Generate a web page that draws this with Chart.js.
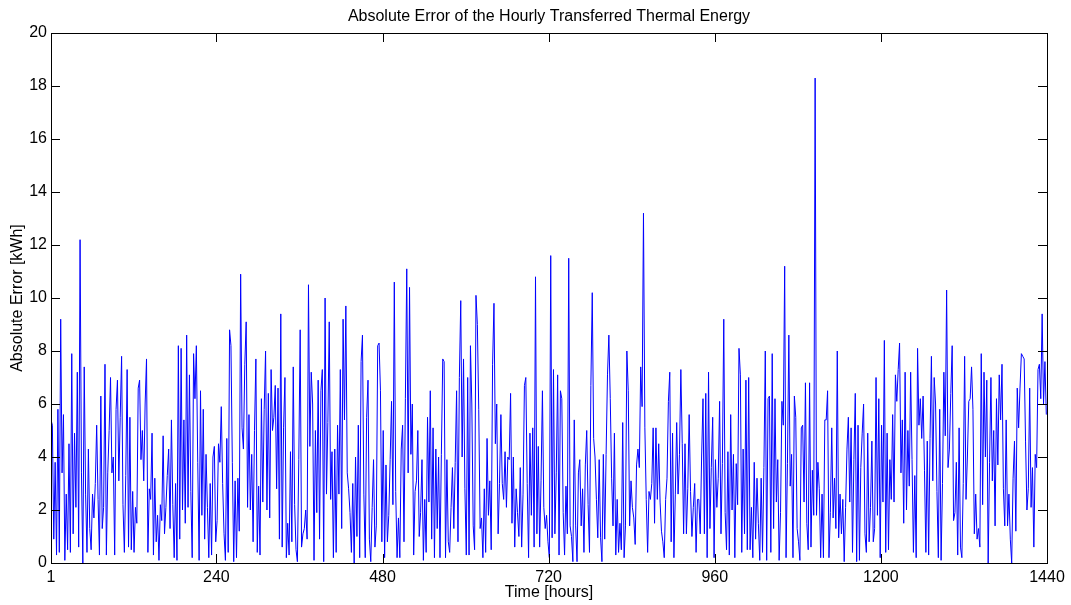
<!DOCTYPE html>
<html>
<head>
<meta charset="utf-8">
<script src="https://cdn.jsdelivr.net/npm/chart.js@4"></script>
<style>
  body { margin: 0; background: #fff; }
  #chart { display: block; }
</style>
</head>
<body>
<canvas id="chart" width="1071" height="605"></canvas>
<script>
const errorH1_143 = [
  5.4,5.2,0.9,3.8,0.3,5.8,0.4,9.2,3.4,5.6,
  0.1,2.6,0.5,4.5,0.4,7.9,1.1,4.9,2.1,7.2,
  0.6,12.2,3.4,0.0,7.4,2.6,0.4,4.3,1.3,0.5,
  2.6,1.7,3.0,5.2,2.4,0.3,6.3,1.3,2.1,7.5,
  0.3,3.4,5.0,7.0,3.4,4.0,0.3,5.8,6.9,3.1,
  5.5,7.8,2.2,0.4,3.3,7.3,0.6,5.5,0.5,2.7,
  0.4,2.1,1.5,6.6,6.9,3.9,5.0,3.1,6.0,7.7,
  0.4,2.8
];
const errorH145_287 = [
  2.4,4.9,0.3,3.2,0.8,1.8,0.1,2.2,1.6,4.8,
  1.1,2.1,3.3,4.3,1.3,5.4,2.2,0.2,3.0,0.1,
  8.2,0.9,8.1,2.0,5.4,1.5,8.6,2.1,7.1,2.7,
  0.2,7.9,6.2,8.2,3.8,0.1,6.5,1.8,5.8,0.9,
  4.1,2.1,0.2,3.0,0.3,4.0,4.4,0.8,1.6,4.5,
  3.8,5.9,3.0,1.1,0.1,4.7,0.4,8.8,8.2,3.8,
  0.05,3.1,0.2,3.2,1.2,10.9,5.1,4.3,7.5,9.1,
  2.1,5.6
];
const errorH289_431 = [
  2.0,4.1,0.8,5.0,7.7,0.4,2.9,0.3,6.2,2.3,
  5.8,8.0,2.0,6.4,1.7,7.3,5.0,5.5,6.7,2.8,
  6.6,0.9,9.4,0.6,5.1,7.0,0.2,1.5,0.3,4.2,
  0.8,7.4,2.2,0.5,0.05,3.9,8.8,0.6,1.1,1.3,
  2.0,0.9,10.5,4.4,7.2,6.0,0.1,5.0,1.9,6.9,
  0.9,6.5,7.3,0.05,10.0,2.6,5.3,9.1,2.4,4.2,
  0.2,4.3,0.4,5.2,2.6,7.3,1.3,9.2,5.4,9.7,
  3.4,2.8
];
const errorH433_575 = [
  1.9,0.4,3.0,0.0,4.0,1.0,5.2,0.2,7.6,8.6,
  2.6,0.2,5.5,6.9,0.9,0.05,2.1,3.9,0.6,1.4,
  8.2,8.3,6.5,0.8,5.0,0.2,3.7,0.8,1.8,3.9,
  6.1,2.2,10.6,2.7,0.2,1.7,0.2,4.3,5.2,0.8,
  6.2,11.1,3.4,10.4,4.1,6.0,0.3,2.7,3.1,5.0,
  1.0,1.9,3.9,0.1,2.4,0.4,5.5,2.3,6.5,0.9,
  5.1,0.2,4.3,1.3,4.0,0.2,4.1,7.7,7.6,0.2,
  3.9,0.8
];
const errorH577_719 = [
  0.4,2.1,3.6,1.3,3.8,6.5,0.8,7.0,9.9,4.0,
  7.7,2.8,0.3,7.0,0.3,8.2,6.0,1.4,0.5,10.1,
  9.0,5.8,1.3,1.7,0.2,2.8,0.4,4.7,1.8,3.1,
  0.5,7.5,9.8,4.5,6.0,1.1,3.0,5.6,3.0,2.4,
  4.2,2.1,4.0,3.9,6.4,1.5,4.0,0.6,2.8,1.9,
  1.0,3.6,0.6,2.6,6.7,7.0,3.0,0.2,4.9,1.8,
  5.1,0.6,10.8,1.1,4.4,0.6,3.1,6.5,2.1,1.3,
  1.8,0.8
];
const errorH721_863 = [
  0.2,11.6,0.95,7.3,1.1,3.4,7.1,0.3,6.5,6.2,
  1.9,0.3,2.9,1.1,11.5,1.4,1.0,0.05,5.4,1.4,
  0.05,3.4,3.9,1.4,2.8,0.4,3.7,5.0,2.2,0.4,
  6.7,10.2,4.7,4.0,2.4,0.95,3.9,0.95,0.05,4.1,
  0.9,4.1,7.1,8.6,6.2,3.2,1.4,4.9,0.3,2.4,
  0.4,1.5,0.5,5.3,0.2,1.4,8.0,6.5,1.4,3.1,
  2.1,1.7,0.7,3.7,4.3,3.6,7.4,5.9,13.2,5.1,
  2.4,0.4
];
const errorH865_1007 = [
  2.7,2.4,3.0,5.1,1.5,5.1,2.4,4.5,2.3,1.2,
  0.8,0.2,2.4,3.2,6.1,7.2,0.8,4.9,0.2,2.6,
  5.3,2.6,4.1,7.3,4.5,1.1,4.5,1.1,2.8,5.6,
  2.7,1.0,2.1,3.0,0.4,2.4,2.4,1.1,4.0,6.2,
  1.1,6.4,0.2,7.2,1.3,3.6,5.5,0.2,3.9,2.1,
  3.2,6.1,1.1,3.75,9.2,1.9,0.5,4.2,0.3,5.6,
  2.0,4.1,0.2,3.75,2.2,8.1,7.1,0.4,4.3,1.1,
  6.9,0.5
];
const errorH1009_1151 = [
  7.0,0.5,2.1,0.2,3.8,0.9,3.2,1.5,0.1,3.2,
  0.4,3.6,8.0,0.1,6.2,6.3,0.4,7.9,1.3,6.2,
  2.3,3.9,0.1,1.9,6.1,5.2,11.2,0.2,3.75,8.6,
  2.9,4.1,0.2,6.3,5.5,1.3,0.8,0.1,5.1,5.2,
  2.3,6.8,1.5,0.5,6.8,0.6,3.5,1.8,18.3,1.8,
  3.8,2.8,0.2,2.6,0.2,5.4,5.4,6.5,0.2,1.9,
  5.1,1.7,3.2,1.3,8.0,0.95,2.6,1.1,2.4,0.05,
  2.1,4.3
];
const errorH1153_1295 = [
  5.5,2.3,5.1,0.4,3.9,6.4,0.05,5.2,0.1,3.6,
  4.9,6.0,1.1,0.4,4.9,0.8,2.1,4.6,0.8,1.3,
  7.0,1.8,6.2,0.2,5.2,2.3,8.4,0.4,4.9,0.5,
  3.9,2.4,5.6,2.3,7.1,6.1,7.3,8.3,3.4,5.4,
  1.5,7.2,2.0,5.0,2.9,7.2,3.9,0.4,3.3,0.2,
  8.1,5.2,6.2,4.7,6.3,3.5,0.4,4.6,0.3,4.7,
  7.8,3.1,7.0,6.0,2.7,0.2,5.8,0.1,3.0,7.2,
  4.8,10.3
];
const errorH1297_1439 = [
  3.6,4.3,6.4,8.2,1.6,1.9,3.8,0.3,5.1,0.6,
  0.2,3.0,7.8,2.4,4.0,6.1,6.2,7.4,5.8,1.1,
  2.6,0.9,1.3,0.6,7.9,2.2,7.2,4.0,6.9,0.0,
  3.8,7.0,3.1,5.0,1.4,6.2,3.7,7.1,5.4,7.5,
  2.8,1.4,5.4,1.4,2.6,0.9,0.0,3.2,4.6,1.2,
  6.6,5.1,6.6,7.9,7.8,7.7,4.6,2.0,2.8,6.6,
  2.1,3.6,0.6,4.1,3.6,7.3,7.5,6.2,9.4,6.0,
  7.6,5.6
];

const firstHour = 1;
const hourStep = 2;
const hourTicks = [1, 240, 480, 720, 960, 1200, 1440];
const errorTicks = [0, 2, 4, 6, 8, 10, 12, 14, 16, 18, 20];

const allErrors = [].concat(
  errorH1_143, errorH145_287, errorH289_431, errorH433_575, errorH577_719,
  errorH721_863, errorH865_1007, errorH1009_1151, errorH1153_1295, errorH1297_1439
);
const points = allErrors.map((v, i) => ({ x: firstHour + i * hourStep, y: v }));

const FONT = "'Liberation Sans', Arial, Helvetica, sans-serif";

// matlab-like box with inward ticks on every side
const boxTicks = {
  id: 'boxTicks',
  afterDatasetsDraw(chart) {
    const { ctx, chartArea: a, scales: { x, y } } = chart;
    const len = 9;
    ctx.save();
    ctx.strokeStyle = '#000';
    ctx.lineWidth = 1;
    ctx.beginPath();
    x.ticks.forEach(t => {
      const px = Math.round(x.getPixelForValue(t.value)) + 0.5;
      ctx.moveTo(px, a.bottom); ctx.lineTo(px, a.bottom - len);
      ctx.moveTo(px, a.top); ctx.lineTo(px, a.top + len);
    });
    y.ticks.forEach(t => {
      const py = Math.round(y.getPixelForValue(t.value)) + 0.5;
      ctx.moveTo(a.left, py); ctx.lineTo(a.left + len, py);
      ctx.moveTo(a.right, py); ctx.lineTo(a.right - len, py);
    });
    ctx.stroke();
    ctx.strokeRect(Math.round(a.left) + 0.5, Math.round(a.top) + 0.5,
      Math.round(a.right - a.left), Math.round(a.bottom - a.top));
    ctx.restore();
  }
};

new Chart(document.getElementById('chart'), {
  type: 'line',
  data: {
    datasets: [{
      data: points,
      borderColor: '#0000ff',
      borderWidth: 1,
      pointRadius: 0,
      tension: 0,
      fill: false
    }]
  },
  options: {
    responsive: false,
    animation: false,
    devicePixelRatio: 1,
    layout: { padding: { top: 0, right: 24, bottom: 0, left: 0 } },
    plugins: {
      legend: { display: false },
      tooltip: { enabled: false },
      title: {
        display: true,
        fullSize: false,
        text: 'Absolute Error of the Hourly Transferred Thermal Energy',
        color: '#000',
        font: { family: FONT, size: 16, weight: 'normal' },
        padding: { top: 7, bottom: 6.8 }
      }
    },
    scales: {
      x: {
        type: 'linear',
        min: 1,
        max: 1440,
        afterBuildTicks: s => { s.ticks = hourTicks.map(v => ({ value: v })); },
        afterFit: s => { s.height = 42; },
        grid: { display: false, drawTicks: false },
        border: { display: false },
        ticks: {
          color: '#000',
          padding: 5,
          maxRotation: 0,
          autoSkip: false,
          callback: v => String(v),
          font: { family: FONT, size: 16 }
        },
        title: {
          display: true,
          text: 'Time [hours]',
          color: '#000',
          font: { family: FONT, size: 16 },
          padding: { top: 0, bottom: 3 }
        }
      },
      y: {
        min: 0,
        max: 20,
        afterBuildTicks: s => { s.ticks = errorTicks.map(v => ({ value: v })); },
        afterFit: s => { s.width = 51; },
        grid: { display: false, drawTicks: false },
        border: { display: false },
        ticks: {
          color: '#000',
          padding: 4,
          callback: v => String(v),
          font: { family: FONT, size: 16 }
        },
        title: {
          display: true,
          text: 'Absolute Error [kWh]',
          color: '#000',
          font: { family: FONT, size: 16 },
          padding: { top: 8, bottom: 0 }
        }
      }
    }
  },
  plugins: [boxTicks]
});
</script>
</body>
</html>
